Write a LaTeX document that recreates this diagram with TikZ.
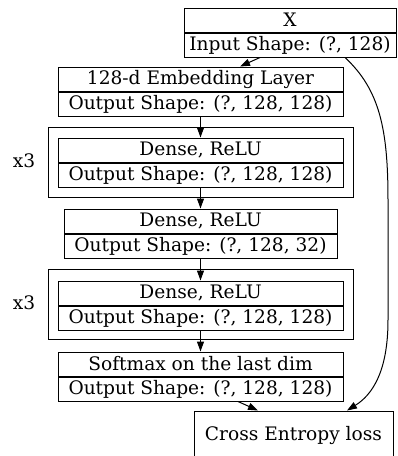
\documentclass[tikz,border=0pt]{standalone}
\usepackage{fontspec}
\setmainfont{DejaVu Serif}
\usetikzlibrary{positioning,arrows.meta}
\begin{document}
\begin{tikzpicture}[x=1pt,y=1pt,
  cell/.style={draw,line width=1pt,minimum height=24pt,inner sep=0pt,font=\fontsize{18.6}{20}\selectfont},
  grp/.style={draw,line width=1pt},
  lbl/.style={font=\fontsize{18.6}{20}\selectfont},
  arr/.style={-{Triangle[length=10pt,width=7pt]},line width=1pt}]
\useasboundingbox (0,0) rectangle (398,-456);

% input record
\node[cell,minimum width=212pt] (x) at (290,-20) {X};
\node[cell,minimum width=212pt,below=0pt of x] (xs) {Input Shape: (?, 128)};

% embedding
\node[cell,minimum width=285pt] (emb) at (200.5,-79) {128-d Embedding Layer};
\node[cell,minimum width=285pt,below=0pt of emb] (embs) {Output Shape: (?, 128, 128)};

% first repeated block
\draw[grp] (48,-127) rectangle (353,-197);
\node[lbl] (rep1) at (24,-161) {x3};
\node[cell,minimum width=285pt] (dA) at (200.5,-150) {Dense, ReLU};
\node[cell,minimum width=285pt,below=0pt of dA] (dAs) {Output Shape: (?, 128, 128)};

% bottleneck
\node[cell,minimum width=273pt] (dB) at (200.5,-221) {Dense, ReLU};
\node[cell,minimum width=273pt,below=0pt of dB] (dBs) {Output Shape: (?, 128, 32)};

% second repeated block
\draw[grp] (48,-269) rectangle (353,-339);
\node[lbl] (rep2) at (24,-303) {x3};
\node[cell,minimum width=285pt] (dC) at (200.5,-293) {Dense, ReLU};
\node[cell,minimum width=285pt,below=0pt of dC] (dCs) {Output Shape: (?, 128, 128)};

% softmax
\node[cell,minimum width=285pt] (sm) at (200.5,-364) {Softmax on the last dim};
\node[cell,minimum width=285pt,below=0pt of sm] (sms) {Output Shape: (?, 128, 128)};

% loss
\node[cell,minimum width=199pt,minimum height=48pt] (ce) at (293.5,-435) {Cross Entropy loss};

\draw[arr] ([xshift=-30pt]xs.south) -- ([xshift=39.5pt]emb.north);
\draw[arr] (embs.south) -- (dA.north);
\draw[arr] (dAs.south) -- (dB.north);
\draw[arr] (dBs.south) -- (dC.north);
\draw[arr] (dCs.south) -- (sm.north);
\draw[arr] ([xshift=37.5pt]sms.south) -- ([xshift=-35.5pt]ce.north);
\draw[arr] ([xshift=55pt]xs.south) .. controls (380,-90) and (388,-130) .. (388,-200)
  -- (388,-320) .. controls (388,-372) and (372,-395) .. ([xshift=53.5pt]ce.north);

\end{tikzpicture}
\end{document}
